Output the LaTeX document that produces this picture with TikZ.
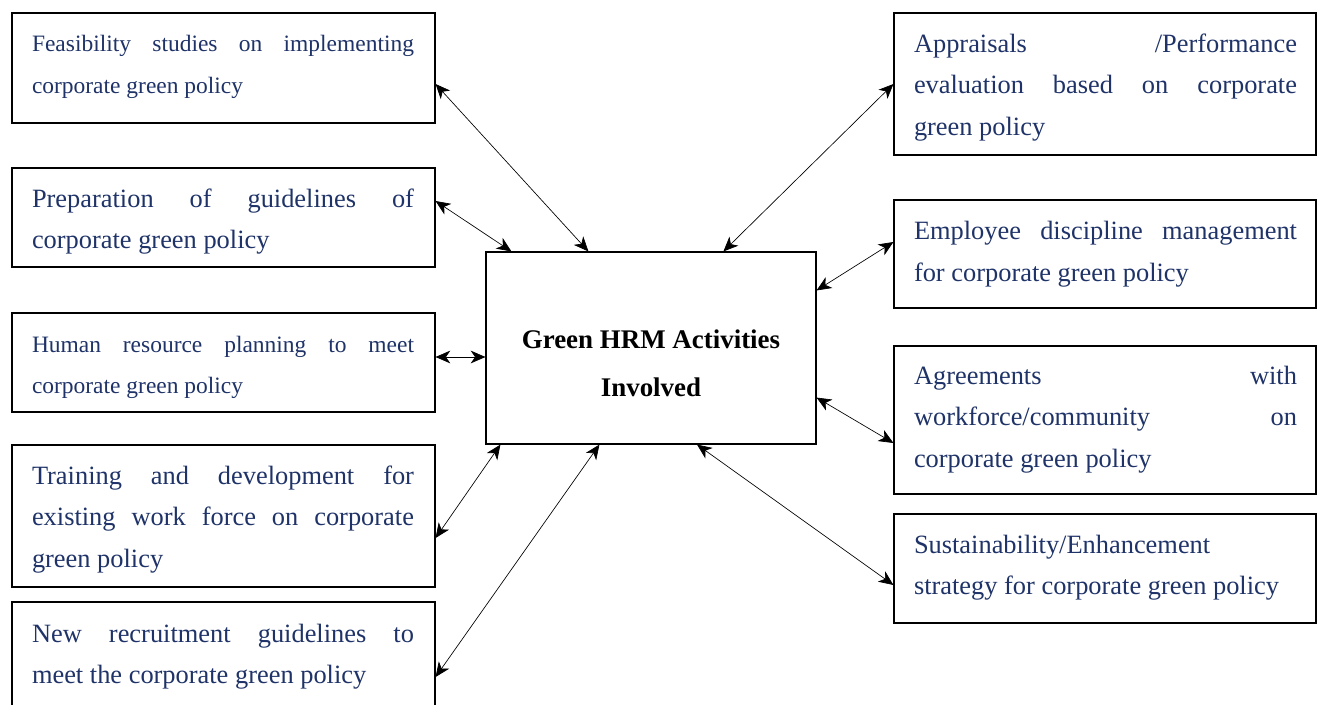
\documentclass[tikz,border=0pt]{standalone}
\usepackage{fontspec}
\setmainfont{Liberation Serif}
\usetikzlibrary{arrows.meta}
\definecolor{navy}{HTML}{1F3368}
\newcommand{\jl}[1]{\makebox[\linewidth][s]{#1}}
\tikzset{
  box/.style={draw=black, line width=0.85pt, rectangle, inner sep=0pt, minimum width=317.25pt},
  txt/.style={anchor=base west, inner sep=0pt, outer sep=0pt, text=navy},
  link/.style={line width=0.5pt, {Stealth[length=11pt,width=9.5pt,inset=3.2pt]}-{Stealth[length=11pt,width=9.5pt,inset=3.2pt]}},
  smallf/.style={font=\fontsize{17.6pt}{31.125pt}\selectfont},
  bigf/.style={font=\fontsize{19.8pt}{31.125pt}\selectfont},
}
\begin{document}
\begin{tikzpicture}[x=0.75pt,y=-0.75pt]
\useasboundingbox (0,0) rectangle (1322,704);
\clip (0,0) rectangle (1322,704);
\fill[white] (0,0) rectangle (1322,704);
% left boxes
\node[box, minimum height=82.5pt] (b1) at (223.5,68) {};
\node[box, minimum height=74.25pt] (b2) at (223.5,217.5) {};
\node[box, minimum height=74.25pt] (b3) at (223.5,362.5) {};
\node[box, minimum height=106.5pt] (b4) at (223.5,516) {};
\node[box, minimum height=88.5pt] (b5) at (223.5,661) {};
% center
\node[box, minimum width=247.5pt, minimum height=144pt] (c) at (651,348) {};
% right boxes
\node[box, minimum width=316.5pt, minimum height=106.5pt] (r1) at (1105,84) {};
\node[box, minimum width=316.5pt, minimum height=81pt] (r2) at (1105,254) {};
\node[box, minimum width=316.5pt, minimum height=111pt] (r3) at (1105,420) {};
\node[box, minimum width=316.5pt, minimum height=81.75pt] (r4) at (1105,568.5) {};
% texts
\node[txt, smallf] (t1) at (32,51.5) {\parbox[t]{286.5pt}{\jl{Feasibility studies on implementing}\\corporate green policy}};
\node[txt, bigf] (t2) at (32,207) {\parbox[t]{286.5pt}{\jl{Preparation of guidelines of}\\corporate green policy}};
\node[txt, smallf] (t3) at (32,352) {\parbox[t]{286.5pt}{\jl{Human resource planning to meet}\\corporate green policy}};
\node[txt, bigf] (t4) at (32,484) {\parbox[t]{286.5pt}{\jl{Training and development for}\\\jl{existing work force on corporate}\\green policy}};
\node[txt, bigf] (t5) at (32,642) {\parbox[t]{286.5pt}{\jl{New recruitment guidelines to}\\meet the corporate green policy}};
\node[txt, bigf] (u1) at (914,52) {\parbox[t]{287.25pt}{\jl{Appraisals /Performance}\\\jl{evaluation based on corporate}\\green policy}};
\node[txt, bigf] (u2) at (914,239.5) {\parbox[t]{287.25pt}{\jl{Employee discipline management}\\for corporate green policy}};
\node[txt, bigf] (u3) at (914,384) {\parbox[t]{287.25pt}{\jl{Agreements with}\\\jl{workforce/community on}\\corporate green policy}};
\node[txt, bigf] (u4) at (914,553) {\parbox[t]{287.25pt}{Sustainability/Enhancement\\strategy for corporate green policy}};
\node[anchor=base, inner sep=0pt] (ct) at (651,348) {\parbox[t]{240pt}{\centering\fontsize{20.2pt}{36pt}\selectfont\bfseries Green HRM Activities\\Involved}};
% connectors
\draw[link] ([yshift=-12pt]b1.east) -- ([xshift=77.25pt]c.north west);
\draw[link] ([yshift=12.375pt]b2.east) -- ([xshift=19.5pt]c.north west);
\draw[link] ([yshift=4.125pt]b3.east) -- ([yshift=-6.75pt]c.west);
\draw[link] ([yshift=-16.5pt]b4.east) -- ([xshift=11.25pt]c.south west);
\draw[link] ([yshift=-12pt]b5.east) -- ([xshift=85.5pt]c.south west);
\draw[link] (r1.west) -- ([xshift=178.5pt]c.north west);
\draw[link] ([yshift=9pt]r2.west) -- ([yshift=-29.25pt]c.north east);
\draw[link] ([yshift=-17.25pt]r3.west) -- ([yshift=35.25pt]c.south east);
\draw[link] ([yshift=-12.375pt]r4.west) -- ([xshift=34.5pt]c.south);
\end{tikzpicture}
\end{document}
